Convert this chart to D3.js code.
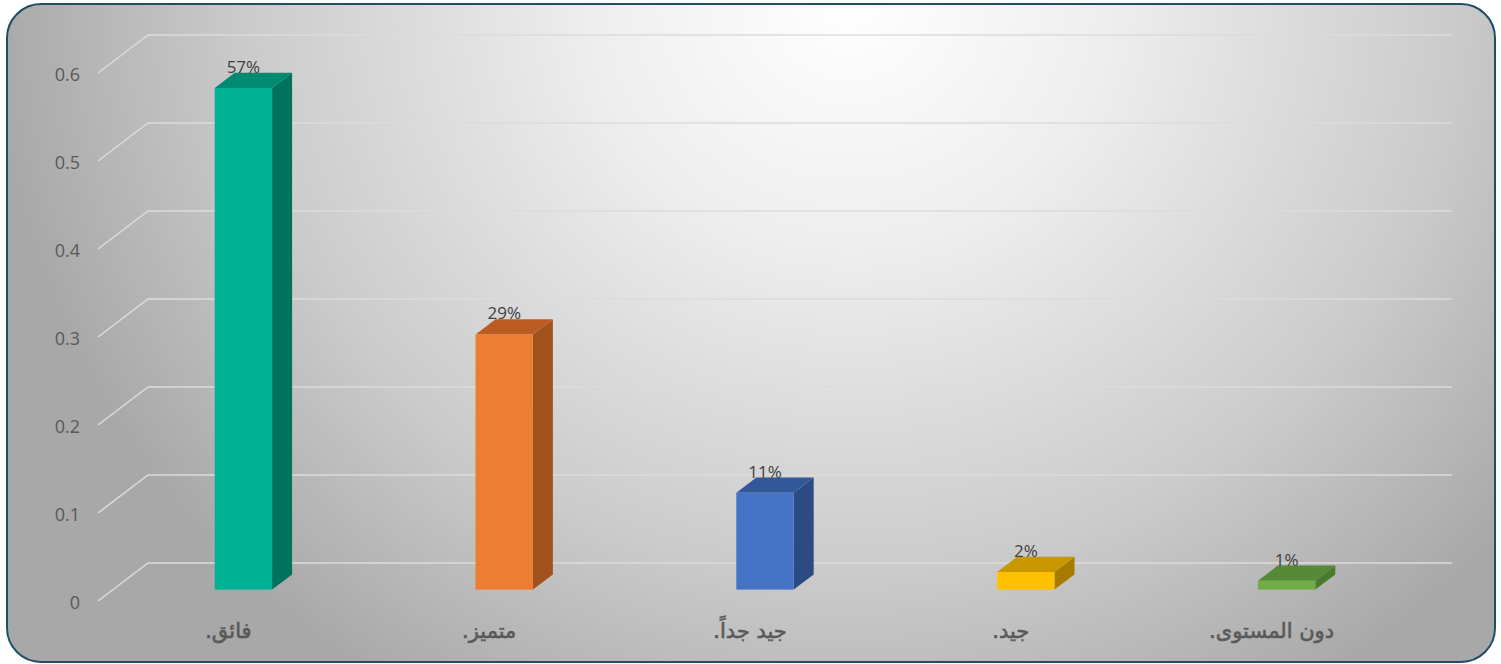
<!DOCTYPE html>
<html>
<head>
<meta charset="utf-8">
<script src="https://cdn.jsdelivr.net/npm/d3@7"></script>
<style>
  html, body { margin: 0; padding: 0; background: #ffffff; }
  svg { display: block; }
</style>
</head>
<body>
<svg id="chart" width="1501" height="664"></svg>
<script>
// ---- data ----
const categories = ["فائق.", "متميز.", "جيد جداً.", "جيد.", "دون المستوى."];
const values = [0.57, 0.29, 0.11, 0.02, 0.01];
const valueLabels = ["57%", "29%", "11%", "2%", "1%"];
const tickValues = [0, 0.1, 0.2, 0.3, 0.4, 0.5, 0.6];
const tickLabels = ["0", "0.1", "0.2", "0.3", "0.4", "0.5", "0.6"];
const frontColors = ["#00b294", "#ed7d31", "#4472c4", "#ffc000", "#70ad47"];
const sideColors  = ["#00735f", "#a2521e", "#2c4b84", "#a67c00", "#4a7a2e"];
const topColors   = ["#008a72", "#bb5d23", "#33589a", "#c99700", "#578a37"];

// ---- layout ----
const W = 1501, H = 664;
const floorLeft = 98, floorRight = 1402;   // front plane
const yFront0 = 601, yFront06 = 73;
const depthX = 50, depthY = -38;           // full depth offset
const barFront = 0.3, barBack = 0.7;       // depth fractions
const barWidthFrac = 0.22;

const svg = d3.select("#chart");
const defs = svg.append("defs");

const grad = defs.append("radialGradient")
  .attr("id", "bg")
  .attr("gradientUnits", "userSpaceOnUse")
  .attr("cx", 850).attr("cy", 0).attr("r", 860)
  .attr("gradientTransform", "translate(850,0) scale(1,0.95) translate(-850,0)");
grad.append("stop").attr("offset", 0).attr("stop-color", "#ffffff");
grad.append("stop").attr("offset", 0.3).attr("stop-color", "#eeeeee");
grad.append("stop").attr("offset", 0.7).attr("stop-color", "#cbcbcb");
grad.append("stop").attr("offset", 1).attr("stop-color", "#a8a8a8");

svg.append("rect").attr("x", 0).attr("y", 0).attr("width", W).attr("height", H)
  .attr("fill", "#ffffff");

svg.append("rect")
  .attr("x", 7).attr("y", 4).attr("width", W - 13).attr("height", H - 6)
  .attr("rx", 34).attr("ry", 34)
  .attr("fill", "url(#bg)")
  .attr("stroke", "#1f4e68").attr("stroke-width", 2);

// ---- scales ----
const y = d3.scaleLinear().domain([0, 0.6]).range([yFront0, yFront06]);
const x = d3.scaleBand().domain(categories).range([floorLeft, floorRight]).paddingInner(0).paddingOuter(0);

// ---- gridlines ----
const grid = svg.append("g");
tickValues.forEach(v => {
  const y0 = y(v);
  grid.append("path")
    .attr("d", `M${floorLeft},${y0} L${floorLeft + depthX},${y0 + depthY} L${floorRight + depthX},${y0 + depthY}`)
    .attr("fill", "none")
    .attr("stroke", "#dcdcdc")
    .attr("stroke-width", 1.5);
});

// ---- y axis labels ----
const yAxis = d3.axisLeft(y)
  .tickValues(tickValues)
  .tickFormat((d, i) => tickLabels[i])
  .tickSize(0)
  .tickPadding(18);
const gy = svg.append("g").attr("transform", `translate(${floorLeft},2)`).call(yAxis);
gy.select(".domain").remove();
gy.selectAll("text")
  .attr("fill", "#595959")
  .style("font-family", "'Open Sans', 'Liberation Sans', sans-serif")
  .style("font-size", "18px");

// ---- bars ----
const bw = x.bandwidth() * barWidthFrac;
const fdx = depthX * barFront, fdy = depthY * barFront;
const bdx = depthX * barBack, bdy = depthY * barBack;
const sdx = bdx - fdx, sdy = bdy - fdy;

const bars = svg.append("g");
categories.forEach((c, i) => {
  const cx = x(c) + x.bandwidth() / 2 + fdx;
  const x0 = cx - bw / 2, x1 = cx + bw / 2;
  const yb = y(0) + fdy;
  const yt = y(values[i]) + fdy;
  const g = bars.append("g");
  g.append("path")
    .attr("d", `M${x1},${yb} L${x1 + sdx},${yb + sdy} L${x1 + sdx},${yt + sdy} L${x1},${yt} Z`)
    .attr("fill", sideColors[i]);
  g.append("path")
    .attr("d", `M${x0},${yt} L${x0 + sdx},${yt + sdy} L${x1 + sdx},${yt + sdy} L${x1},${yt} Z`)
    .attr("fill", topColors[i]);
  g.append("rect")
    .attr("x", x0).attr("y", yt).attr("width", bw).attr("height", yb - yt)
    .attr("fill", frontColors[i]);
  g.append("text")
    .attr("x", cx).attr("y", yt - 15)
    .attr("text-anchor", "middle")
    .attr("fill", "#404040")
    .style("font-family", "'Open Sans', 'Liberation Sans', sans-serif")
    .style("font-size", "17px")
    .text(valueLabels[i]);
});

// ---- category labels ----
const xAxis = d3.axisBottom(x).tickSize(0).tickPadding(22);
const gx = svg.append("g").attr("transform", `translate(0,${yFront0})`).call(xAxis);
gx.select(".domain").remove();
gx.selectAll("text")
  .attr("fill", "#595959")
  .attr("stroke", "#595959")
  .attr("stroke-width", 0.6)
  .attr("direction", "rtl")
  .style("font-family", "'DejaVu Sans', sans-serif")
  .style("font-size", "21px");
</script>
</body>
</html>
